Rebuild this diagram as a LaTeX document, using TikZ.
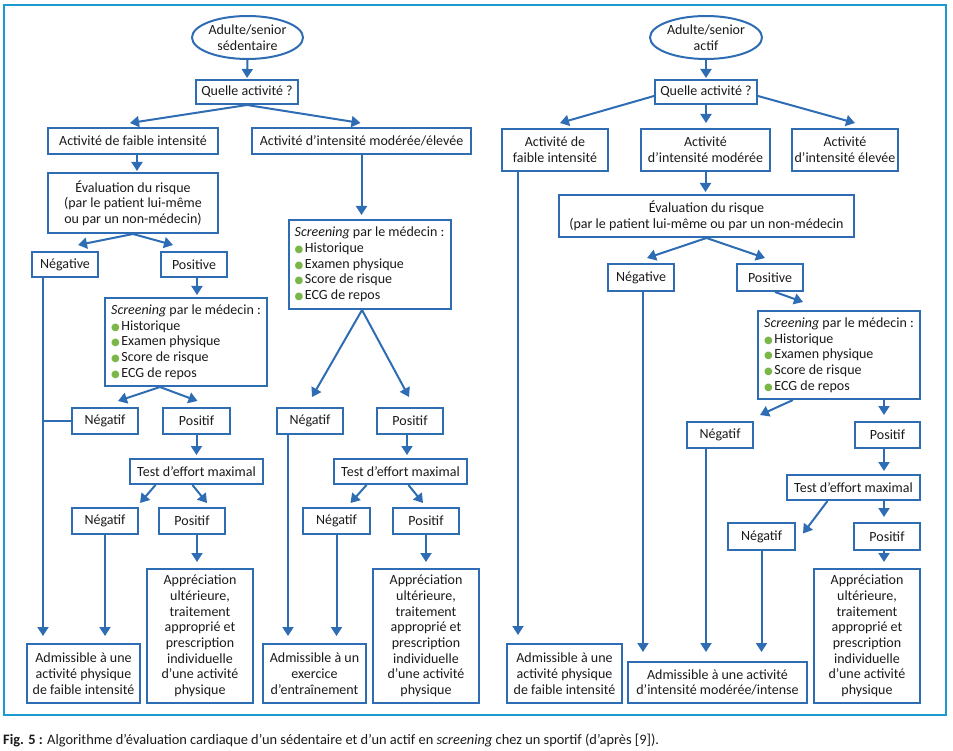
\documentclass[tikz,border=0pt]{standalone}
\usepackage{fontspec}
\setmainfont{Carlito}
\newfontfamily\djv{DejaVu Sans}
\usetikzlibrary{arrows.meta,shapes.geometric}
\definecolor{nb}{HTML}{2E6DB4}
\definecolor{fr}{HTML}{1C9AD0}
\definecolor{bg}{HTML}{7AB648}
\definecolor{tx}{HTML}{1A1A1A}
\newcommand{\gb}{{\djv\fontsize{10}{10}\selectfont\textcolor{bg}{●}}\hspace{1.5pt}}
\newcommand{\scrtext}{\textit{Screening} par le médecin :\\\gb Historique\\\gb Examen physique\\\gb Score de risque\\\gb ECG de repos}
\newcommand{\apprtext}{Appréciation\\ultérieure,\\traitement\\approprié et\\prescription\\individuelle\\d’une activité\\physique}
\tikzset{
  box/.style={draw=nb, line width=2pt, inner sep=0pt, align=center, text=tx,
    font=\fontsize{14}{15.7}\selectfont},
  bw/.style 2 args={minimum width=#1pt, minimum height=#2pt},
  ell/.style={box, ellipse},
  scr/.style={box, align=left, minimum width=162pt},
  arr/.style={draw=nb, line width=2pt, -{Triangle[width=11pt,length=9pt]}},
  ln/.style={draw=nb, line width=2pt},
}
\begin{document}
\begin{tikzpicture}[x=1pt,y=-1pt]
\useasboundingbox (0,0) rectangle (953,751);
\draw[fr, line width=2.5pt] (4,5) rectangle (946,715);

% ---------- left tree ----------
\node[ell, bw={111}{43}] (ell1) at (247.5,37.5) {Adulte/senior\\sédentaire};
\node[box, bw={102}{24}] (q1) at (247,92) {Quelle activité ?};
\node[box, bw={170}{26}] (lf1) at (133,141) {Activité de faible intensité};
\node[box, bw={219}{26}] (mod1) at (361.5,141) {Activité d’intensité modérée/élevée};
\node[box, bw={170}{60}] (ev1) at (133,203) {Évaluation du risque\\(par le patient lui-même\\ou par un non-médecin)};
\node[box, bw={66}{25}] (neg1) at (65,264.5) {Négative};
\node[box, bw={66}{25}] (pos1) at (194,264.5) {Positive};
\node[scr, minimum height=88pt] (scr1) at (186,342) {\scrtext};
\node[box, bw={66}{26}] (neg2) at (105,421) {Négatif};
\node[box, bw={67}{26}] (pos2) at (196.5,421) {Positif};
\node[box, bw={133}{25}] (test1) at (196.5,471.5) {Test d’effort maximal};
\node[box, bw={66}{26}] (neg3) at (105,521) {Négatif};
\node[box, bw={66}{26}] (pos3) at (192,521) {Positif};
\node[box, bw={113}{59}] (adm1) at (83.5,673.5) {Admissible à une\\activité physique\\de faible intensité};
\node[box, bw={106}{134}] (appr1) at (200,636) {\apprtext};

% ---------- middle tree ----------
\node[scr, minimum height=89pt] (scr2) at (369.5,264.5) {\scrtext};
\node[box, bw={66}{26}] (negM) at (310,421) {Négatif};
\node[box, bw={66}{26}] (posM) at (410,421) {Positif};
\node[box, bw={133}{25}] (testM) at (400.5,471.5) {Test d’effort maximal};
\node[box, bw={67}{26}] (negM3) at (336.5,521) {Négatif};
\node[box, bw={66}{26}] (posM3) at (426,521) {Positif};
\node[box, bw={103}{59}] (admM) at (314.5,673.5) {Admissible à un\\exercice\\d’entraînement};
\node[box, bw={106}{134}] (apprM) at (426,636) {\apprtext};

% ---------- right tree ----------
\node[ell, bw={112}{43}] (ellR) at (706,37.5) {Adulte/senior\\actif};
\node[box, bw={102}{24}] (qR) at (706,92) {Quelle activité ?};
\node[box, bw={106}{42}] (lfR) at (555,150) {Activité de\\faible intensité};
\node[box, bw={129}{42}] (modR) at (705.5,150) {Activité\\d’intensité modérée};
\node[box, bw={106}{42}] (elR) at (845,150) {Activité\\d’intensité élevée};
\node[box, bw={295}{42}] (evR) at (706.5,216) {Évaluation du risque\\(par le patient lui-même ou par un non-médecin};
\node[box, bw={66}{27}] (negR) at (641,277.5) {Négative};
\node[box, bw={66}{27}] (posR) at (770,277.5) {Positive};
\node[scr, minimum height=88pt] (scrR) at (839,355) {\scrtext};
\node[box, bw={66}{26}] (negRR) at (720,435) {Négatif};
\node[box, bw={65}{26}] (posRR) at (887.5,435) {Positif};
\node[box, bw={133}{25}] (testR) at (853.5,487.5) {Test d’effort maximal};
\node[box, bw={67}{27}] (negR3) at (761.5,536.5) {Négatif};
\node[box, bw={66}{27}] (posR3) at (887,536.5) {Positif};
\node[box, bw={115}{59}] (admR1) at (564.5,673.5) {Admissible à une\\activité physique\\de faible intensité};
\node[box, bw={179}{41}] (admR2) at (717.5,682.5) {Admissible à une activité\\d’intensité modérée/intense};
\node[box, bw={106}{134}] (apprR) at (867,636) {\apprtext};

% caption
\node[anchor=west, inner sep=0pt, text=tx, font=\fontsize{14.4}{16}\selectfont] (cap) at (3,740)
  {\textbf{Fig. 5 :} Algorithme d’évaluation cardiaque d’un sédentaire et d’un actif en \textit{screening} chez un sportif (d’après [9]).};

% ---------- left connectors ----------
\draw[arr, shorten >=1pt] (ell1.south) -- (q1.north);
\draw[arr] (q1.south) -- ([xshift=-3pt,yshift=4pt]lf1.north);
\draw[arr] (q1.south) -- ([xshift=-1pt,yshift=4pt]mod1.north);
\draw[arr, shorten >=1pt] ([xshift=4pt]lf1.south) -- ([xshift=4pt]lf1.south |- ev1.north);
\draw[arr, shorten >=4pt] (mod1.south) -- (mod1.south |- scr2.north);
\draw[arr] (ev1.south) -- ([xshift=13pt,yshift=6pt]neg1.north);
\draw[arr] (ev1.south) -- ([xshift=-21pt,yshift=6pt]pos1.north);
\draw[arr, shorten >=2pt] ([xshift=3pt]pos1.south) -- ([xshift=3pt]pos1.south |- scr1.north);
\draw[arr] ([xshift=-26pt]scr1.south) -- ([xshift=13pt,yshift=6pt]neg2.north);
\draw[arr] ([xshift=-26pt]scr1.south) -- ([xshift=1pt,yshift=6pt]pos2.north);
\coordinate (v1) at ([xshift=-22pt]neg1.south);
\draw[arr, shorten >=7pt] (v1) -- (v1 |- adm1.north);
\draw[ln] (neg2.west) -- (neg2.west -| v1);
\draw[arr, shorten >=3pt] (pos2.south) -- (pos2.south |- test1.north);
\draw[arr] ([xshift=-41pt]test1.south) -- ([xshift=35pt,yshift=4pt]neg3.north);
\draw[arr] ([xshift=-4pt]test1.south) -- ([xshift=15pt,yshift=4pt]pos3.north);
\draw[arr, shorten >=7pt] (neg3.south) -- (neg3.south |- adm1.north);
\draw[arr, shorten >=6pt] ([xshift=5pt]pos3.south) -- ([xshift=5pt]pos3.south |- appr1.north);

% ---------- middle connectors ----------
\draw[arr] ([xshift=-7.5pt]scr2.south) -- ([xshift=2pt,yshift=10pt]negM.north);
\draw[arr] ([xshift=-7.5pt]scr2.south) -- ([xshift=-1pt,yshift=10pt]posM.north);
\coordinate (v2) at ([xshift=-22pt]negM.south);
\draw[arr, shorten >=7pt] (v2) -- (v2 |- admM.north);
\draw[arr, shorten >=3pt] ([xshift=-3pt]posM.south) -- ([xshift=-3pt]posM.south |- testM.north);
\draw[arr] ([xshift=-34pt]testM.south) -- ([xshift=14pt,yshift=4pt]negM3.north);
\draw[arr] ([xshift=8pt]testM.south) -- ([xshift=-3pt,yshift=4pt]posM3.north);
\draw[arr, shorten >=7pt] (negM3.south) -- (negM3.south |- admM.north);
\draw[arr, shorten >=6pt] (posM3.south) -- (posM3.south |- apprM.north);

% ---------- right connectors ----------
\draw[arr, shorten >=1pt] (ellR.south) -- (qR.north);
\draw[arr] ([yshift=-4pt]qR.west) -- ([xshift=5pt,yshift=5pt]lfR.north);
\draw[arr, shorten >=5pt] (qR.south) -- (qR.south |- modR.north);
\draw[arr] ([yshift=-4pt]qR.east) -- ([xshift=10pt,yshift=5pt]elR.north);
\draw[arr, shorten >=2pt] (modR.south) -- (modR.south |- evR.north);
\coordinate (v3) at ([xshift=-37pt]lfR.south);
\draw[arr, shorten >=8pt] (v3) -- (v3 |- admR1.north);
\draw[arr] (evR.south) -- ([xshift=6pt,yshift=5pt]negR.north);
\draw[arr] (evR.south) -- ([xshift=-5pt,yshift=5pt]posR.north);
\coordinate (v4) at ([xshift=2pt]negR.south);
\draw[arr, shorten >=9pt] (v4) -- (v4 |- admR2.north);
\draw[arr] ([xshift=5pt]posR.south) -- ([xshift=-36pt,yshift=8pt]scrR.north);
\draw[arr] ([xshift=-46pt]scrR.south) -- ([xshift=40pt,yshift=6pt]negRR.north);
\draw[arr, shorten >=6pt] ([xshift=45pt]scrR.south) -- ([xshift=45pt]scrR.south |- posRR.north);
\coordinate (v5) at ([xshift=-14pt]negRR.south);
\draw[arr, shorten >=9pt] (v5) -- (v5 |- admR2.north);
\draw[arr, shorten >=3pt] ([xshift=-3.5pt]posRR.south) -- ([xshift=-3.5pt]posRR.south |- testR.north);
\draw[arr] ([xshift=-26pt]testR.south) -- ([xshift=7pt,yshift=3pt]negR3.east);
\draw[arr, shorten >=5pt] ([xshift=30.5pt]testR.south) -- ([xshift=30.5pt]testR.south |- posR3.north);
\draw[arr, shorten >=9pt] (negR3.south) -- (negR3.south |- admR2.north);
\draw[arr, shorten >=6pt] ([xshift=-3pt]posR3.south) -- ([xshift=-3pt]posR3.south |- apprR.north);
\end{tikzpicture}
\end{document}
